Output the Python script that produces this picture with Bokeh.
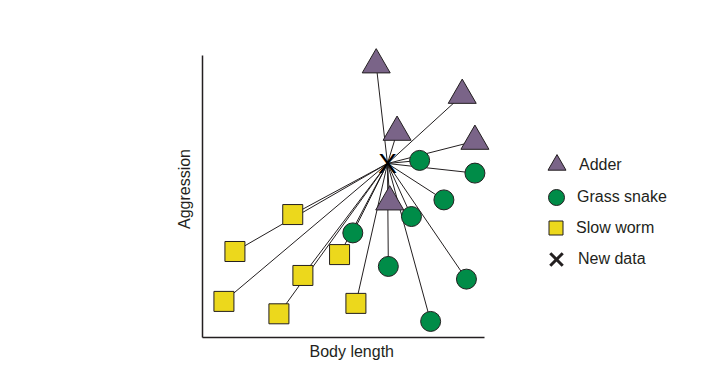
from bokeh.plotting import figure
from bokeh.models import Legend, LegendItem, Range1d, FixedTicker, Title
from bokeh.core.properties import value
from bokeh.embed import file_html
from bokeh.resources import INLINE

# ---- data (arbitrary units) ----
adder_length = [6.16, 9.21, 6.90, 9.66, 6.64]
adder_aggr = [9.67, 8.59, 7.28, 6.96, 4.81]

grass_length = [7.70, 9.66, 8.56, 7.41, 5.33, 6.59, 9.36, 8.09]
grass_aggr = [6.28, 5.83, 4.88, 4.29, 3.71, 2.52, 2.07, 0.57]

slow_length = [3.20, 1.15, 4.86, 3.56, 0.76, 2.71, 5.44]
slow_aggr = [4.36, 3.05, 2.94, 2.20, 1.28, 0.84, 1.21]

new_length = [6.56]
new_aggr = [6.17]

labels = ["Adder", "Grass snake", "Slow worm", "New data"]
x_label = "Body length"
y_label = "Aggression"

FONT = "Liberation Sans"
INK = "#231f20"

# frame extends beyond the drawn axes (bounds 0..10) to hold markers and legend
p = figure(frame_width=488, frame_height=297,
           min_border_left=202, min_border_right=5,
           min_border_top=40, min_border_bottom=45,
           x_range=Range1d(0, 17.305), y_range=Range1d(0, 10.532),
           output_backend="svg", toolbar_location=None,
           background_fill_color="white", border_fill_color="white")
p.outline_line_color = None
p.xgrid.visible = False
p.ygrid.visible = False

for ax in (p.xaxis[0], p.yaxis[0]):
    ax.bounds = (0, 10)
    ax.ticker = FixedTicker(ticks=[])
    ax.major_tick_line_color = None
    ax.minor_tick_line_color = None
    ax.major_label_text_font_size = "0px"
    ax.axis_line_color = INK
    ax.axis_line_width = 1.5
    ax.axis_label_text_font = FONT
    ax.axis_label_text_font_size = "16px"
    ax.axis_label_text_font_style = "normal"
    ax.axis_label_text_color = INK
p.yaxis.axis_label = y_label
p.yaxis.axis_label_standoff = 10

# x label placed under the bounded part of the axis
p.add_layout(Title(text=x_label, align="left", offset=107, standoff=6,
                   text_font=FONT, text_font_size="16px",
                   text_font_style="normal", text_color=INK), "below")

# connecting lines from the new data point to every known point
all_x = adder_length + grass_length + slow_length
all_y = adder_aggr + grass_aggr + slow_aggr
p.segment(x0=[new_length[0]] * len(all_x), y0=[new_aggr[0]] * len(all_y),
          x1=all_x, y1=all_y, line_color=INK, line_width=1)

r_slow = p.scatter(slow_length, slow_aggr, marker="square", size=20,
                   fill_color="#ecd81c", line_color=INK, line_width=1)
r_grass = p.scatter(grass_length, grass_aggr, marker="circle", size=20,
                    fill_color="#008c48", line_color=INK, line_width=1)
r_adder = p.scatter(adder_length, adder_aggr, marker="triangle", size=28,
                    fill_color="#7a6488", line_color=INK, line_width=1)

p.text(x=new_length, y=new_aggr, text=["X"], text_font=value(FONT),
       text_font_size="28px", text_color="black",
       text_align="center", text_baseline="middle")
# zero-size marker used only for the legend entry of the new data point
r_new = p.scatter(new_length, new_aggr, marker="x", size=0,
                  line_color=INK, line_width=3)

def add_legend(label, renderer, g, loc, standoff):
    leg = Legend(items=[LegendItem(label=label, renderers=[renderer])],
                 location=loc, glyph_width=g, glyph_height=g,
                 label_standoff=standoff, padding=0, margin=0,
                 border_line_color=None, background_fill_alpha=0,
                 label_text_font=FONT, label_text_font_size="16px",
                 label_text_color=INK, spacing=0)
    p.add_layout(leg, "center")

add_legend(labels[0], r_adder, 45, (332, 150), 0)
add_legend(labels[1], r_grass, 40, (334, 120), 1)
add_legend(labels[2], r_slow, 35, (336, 92), 3)
add_legend(labels[3], r_new, 44, (332, 56), 0)

open("out.html", "w").write(file_html(p, INLINE))
